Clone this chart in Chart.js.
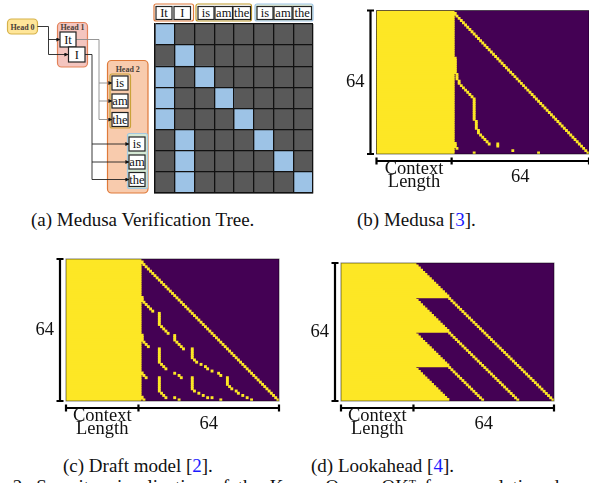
<!DOCTYPE html>
<html>
<head>
<meta charset="utf-8">
<script src="https://cdn.jsdelivr.net/npm/chart.js@4.4.1/dist/chart.umd.min.js"></script>
<style>
  html, body { margin: 0; padding: 0; background: #fff; }
  #page { position: relative; width: 589px; height: 483px; overflow: hidden; }
  #page svg, #page canvas { position: absolute; left: 0; top: 0; }
</style>
</head>
<body>
<div id="page">
  <svg id="diagram" width="589" height="483" xmlns="http://www.w3.org/2000/svg"></svg>
  <canvas id="gridChart" width="589" height="483"></canvas>
  <canvas id="medusaChart" width="589" height="483"></canvas>
  <canvas id="draftChart" width="589" height="483"></canvas>
  <canvas id="lookChart" width="589" height="483"></canvas>
</div>
<script>
// (a) verification tree attention grid
const gridTokens = ['It', 'I', 'is', 'am', 'the', 'is', 'am', 'the'];
const gridAttends = [[0], [1], [0, 2], [0, 3], [0, 4], [1, 5], [1, 6], [1, 7]];

// masks: 64 generated rows, context columns left of them
const rowIdx = Array.from({ length: 64 }, (_, i) => String(i));
const sizeLabel = '64';

// [rowFrom, rowTo, col] vertical runs and [rowFrom, rowTo, colFrom] diagonal strokes
const medusaContext = 35;
const medusaColumns = [[0, 63, 0], [21, 27, 1], [28, 30, 2], [31, 32, 3], [39, 48, 10], [49, 52, 11], [53, 54, 12],
  [59, 60, 1], [61, 61, 2], [59, 60, 21], [62, 62, 28], [63, 63, 10], [63, 63, 40]];
const medusaDiagonals = [[0, 63, 0], [33, 38, 4], [55, 59, 13]];

const draftContext = 33;
const draftColumns = [[0, 63, 0], [17, 18, 1], [24, 29, 9], [34, 36, 1], [34, 36, 16], [40, 46, 9], [40, 44, 24],
  [47, 47, 28], [48, 48, 30], [49, 49, 31], [50, 50, 33], [51, 51, 16], [52, 52, 18], [53, 53, 19],
  [51, 51, 36], [52, 52, 37], [53, 56, 40], [59, 59, 44], [60, 60, 45], [61, 61, 47], [62, 62, 49], [63, 63, 51],
  [53, 59, 9], [53, 58, 24], [59, 59, 25], [60, 60, 27], [61, 61, 29], [62, 62, 31], [62, 62, 33], [63, 63, 37],
  [62, 62, 1], [63, 63, 2], [62, 62, 16], [63, 63, 18]];
const draftDiagonals = [[0, 63, 0], [19, 23, 2], [30, 33, 10], [37, 39, 2], [37, 40, 17], [47, 49, 10],
  [45, 46, 25], [51, 53, 1], [57, 58, 41], [60, 62, 10]];

const lookContext = 33;
const lookRunEnd = [1, 2, 3, 4, 5, 6, 7, 8, 9, 10, 11, 12, 13, 14, 15, 16,
  1, 2, 3, 4, 5, 6, 7, 8, 9, 10, 11, 12, 13, 14, 15, 16,
  1, 2, 3, 4, 5, 6, 7, 8, 9, 10, 11, 12, 13, 14, 15, 16,
  1, 2, 3, 4, 5, 6, 7, 8, 9, 10, 11, 12, 13, 14, 15, 16];
const lookColumns = [];
const lookDiagonals = [[16, 63, 16], [32, 63, 16], [48, 63, 16]];

const yellow = '#fde725';
const purple = '#440154';
const blue = '#9dc3e6';
const gray = '#595959';

// ---------- tree diagram (svg) ----------
const svg = document.getElementById('diagram');
function el(tag, attrs, text) {
  const e = document.createElementNS('http://www.w3.org/2000/svg', tag);
  for (const k in attrs) e.setAttribute(k, attrs[k]);
  if (text !== undefined) e.textContent = text;
  svg.appendChild(e);
  return e;
}
function box(x, y, w, h, fill, stroke, rx) {
  el('rect', { x, y, width: w, height: h, rx: rx || 0, fill, stroke, 'stroke-width': 1.2 });
}
function tok(x, y, w, h, label) {
  box(x, y, w, h, '#fff', '#222', 0);
  el('text', { x: x + w / 2, y: y + h / 2 + 4, 'text-anchor': 'middle', 'font-family': 'Liberation Serif', 'font-size': 12.5, fill: '#111' }, label);
}
function head(x, y, w, h, fill, stroke, label, ty) {
  box(x, y, w, h, fill, stroke, 4);
  el('text', { x: x + w / 2, y: ty, 'text-anchor': 'middle', 'font-family': 'Liberation Serif', 'font-weight': 'bold', 'font-size': 8, fill: '#4a4038' }, label);
}

const defs = el('defs', {});
const marker = document.createElementNS('http://www.w3.org/2000/svg', 'marker');
[['id', 'arr'], ['markerWidth', 4], ['markerHeight', 4], ['refX', 3.6], ['refY', 2], ['orient', 'auto'], ['markerUnits', 'userSpaceOnUse']].forEach(([k, v]) => marker.setAttribute(k, v));
const mp = document.createElementNS('http://www.w3.org/2000/svg', 'path');
mp.setAttribute('d', 'M0,0 L4,2 L0,4 z');
mp.setAttribute('fill', '#111');
marker.appendChild(mp);
defs.appendChild(marker);

head(7.5, 19, 30, 15, '#ffe699', '#d6b24a', 'Head 0', 29.5);
head(57.5, 22.5, 30, 44.5, '#f4c5bf', '#e38359', 'Head 1', 30);
head(107.5, 60.5, 40.5, 132.5, '#f8cbad', '#df7a3a', 'Head 2', 71.5);
box(110, 74, 20.5, 54, '#f8cbad', '#c9a23a', 2);
box(127.5, 133.5, 20, 55, '#d5e8d4', '#a4c8e0', 2);

const lineStyle = { fill: 'none', 'stroke-width': 0.9 };
el('path', Object.assign({ d: 'M37.5,26.5 H48.5 V54.5 H68', stroke: '#222', 'marker-end': 'url(#arr)' }, lineStyle));
el('path', Object.assign({ d: 'M48.5,39.5 H60', stroke: '#222', 'marker-end': 'url(#arr)' }, lineStyle));
el('path', Object.assign({ d: 'M76,39.5 H99 V119.5 H112', stroke: '#8a8a8a', 'marker-end': 'url(#arr)' }, lineStyle));
el('path', Object.assign({ d: 'M99,83 H112', stroke: '#8a8a8a', 'marker-end': 'url(#arr)' }, lineStyle));
el('path', Object.assign({ d: 'M99,101 H112', stroke: '#8a8a8a', 'marker-end': 'url(#arr)' }, lineStyle));
el('path', Object.assign({ d: 'M84.5,54.5 H92 V179.5 H129', stroke: '#222', 'marker-end': 'url(#arr)' }, lineStyle));
el('path', Object.assign({ d: 'M92,144 H129', stroke: '#222', 'marker-end': 'url(#arr)' }, lineStyle));
el('path', Object.assign({ d: 'M92,162 H129', stroke: '#222', 'marker-end': 'url(#arr)' }, lineStyle));

tok(60, 32, 16, 15, 'It');
tok(68.5, 47, 16.5, 15, 'I');
tok(112, 76, 16, 14, 'is');
tok(112, 94, 16, 14, 'am');
tok(112, 112.5, 16, 14, 'the');
tok(129, 137, 16, 14, 'is');
tok(129, 155, 16, 14, 'am');
tok(129, 172.5, 16, 14, 'the');

// grid header tokens
box(154, 4, 39.5, 17, '#fff', '#e07a3c', 2);
box(196, 4, 55.5, 17, '#fff', '#c09a2a', 2);
box(255, 4, 58, 17, '#e2efda', '#9dc3e6', 2);
[[156, 16, 'It'], [174, 16.5, 'I'], [198, 16, 'is'], [215, 17.5, 'am'], [233, 17.5, 'the'],
 [257, 16, 'is'], [274, 18, 'am'], [293, 18.5, 'the']].forEach(([x, w, t]) => tok(x, 6.5, w, 13, t));

// captions
function caption(x, y, before, ref) {
  const t = el('text', { x, y, 'font-family': 'Liberation Serif', 'font-size': 19, fill: '#111' });
  t.appendChild(document.createTextNode(before));
  if (ref) {
    const a = document.createElementNS('http://www.w3.org/2000/svg', 'tspan');
    a.setAttribute('fill', '#1a1aff');
    a.textContent = ref;
    t.appendChild(a);
    t.appendChild(document.createTextNode('].'));
  }
}
caption(31, 226, '(a) Medusa Verification Tree.');
caption(357, 226, '(b) Medusa [', '3');
caption(63, 472, '(c) Draft model [', '2');
caption(311, 472, '(d) Lookahead [', '4');
el('text', { x: -26, y: 493, 'font-family': 'Liberation Serif', 'font-size': 19, fill: '#111', 'word-spacing': 4 },
  'Fig. 2: Sparsity visualization of the Key · Query QKᵀ for speculative decoding.');

// ---------- (a) grid chart ----------
const cellLines = { color: '#111', lineWidth: 1.3, drawTicks: false, z: 1 };
new Chart(document.getElementById('gridChart'), {
  type: 'bar',
  data: {
    labels: gridTokens,
    datasets: gridTokens.map((_, c) => ({
      data: gridTokens.map(() => [c, c + 1]),
      backgroundColor: gridAttends.map(a => a.includes(c) ? blue : gray),
      borderWidth: 0,
      grouped: false,
      categoryPercentage: 1,
      barPercentage: 1
    }))
  },
  options: {
    responsive: false,
    animation: false,
    indexAxis: 'y',
    layout: { padding: { left: 155, top: 24, right: 276, bottom: 290 } },
    plugins: { legend: { display: false }, tooltip: { enabled: false } },
    scales: {
      x: { type: 'linear', min: 0, max: 8, ticks: { display: false, stepSize: 1 },
        grid: cellLines, border: { color: '#111', width: 1.5, z: 1 } },
      y: { type: 'category', ticks: { display: false },
        grid: Object.assign({ offset: true }, cellLines), border: { color: '#111', width: 1.5, z: 1 } }
    }
  }
});

// ---------- heatmaps ----------
function maskRuns(context, columns, diagonals, runEnds) {
  return rowIdx.map((_, r) => {
    const cols = new Set();
    columns.forEach(([r0, r1, c]) => { if (r >= r0 && r <= r1) cols.add(c); });
    diagonals.forEach(([r0, r1, c0]) => { if (r >= r0 && r <= r1) cols.add(c0 + r - r0); });
    const runs = [[-context, runEnds ? runEnds[r] : 0]];
    [...cols].sort((a, b) => a - b).forEach(c => {
      const last = runs[runs.length - 1];
      if (c <= last[1]) last[1] = Math.max(last[1], c + 1);
      else runs.push([c, c + 1]);
    });
    return runs;
  });
}

const maskFrame = {
  id: 'maskFrame',
  beforeDatasetsDraw(chart) {
    const { ctx, chartArea: a } = chart;
    ctx.save();
    ctx.fillStyle = purple;
    ctx.fillRect(a.left, a.top, a.right - a.left, a.bottom - a.top);
    ctx.restore();
  },
  afterDraw(chart) {
    const { ctx, chartArea: a, scales: { x } } = chart;
    const xs = [x.getPixelForValue(x.min), x.getPixelForValue(0), x.getPixelForValue(x.max)];
    const vx = a.left - 6, hy = a.bottom + 7;
    ctx.save();
    ctx.strokeStyle = 'rgba(0,0,0,0.5)';
    ctx.lineWidth = 1;
    ctx.strokeRect(a.left, a.top, a.right - a.left, a.bottom - a.top);
    ctx.strokeStyle = '#000';
    ctx.lineWidth = 2.2;
    ctx.beginPath();
    ctx.moveTo(vx, a.top); ctx.lineTo(vx, a.bottom);
    ctx.moveTo(vx - 3.5, a.top); ctx.lineTo(vx + 3.5, a.top);
    ctx.moveTo(vx - 3.5, a.bottom); ctx.lineTo(vx + 3.5, a.bottom);
    ctx.moveTo(xs[0], hy); ctx.lineTo(xs[2], hy);
    xs.forEach(px => { ctx.moveTo(px, hy - 3.5); ctx.lineTo(px, hy + 3.5); });
    ctx.stroke();
    ctx.fillStyle = '#111';
    ctx.font = '18.5px "Liberation Serif"';
    ctx.textBaseline = 'middle';
    ctx.textAlign = 'right';
    ctx.fillText(sizeLabel, vx - 6, (a.top + a.bottom) / 2);
    ctx.textAlign = 'center';
    ctx.fillText('Context', (xs[0] + xs[1]) / 2, hy + 8.5);
    ctx.fillText('Length', (xs[0] + xs[1]) / 2, hy + 21.5);
    ctx.fillText(sizeLabel, (xs[1] + xs[2]) / 2, hy + 16);
    ctx.restore();
  }
};

function heatmap(id, context, runs, padding) {
  const depth = Math.max(...runs.map(r => r.length));
  const datasets = [];
  for (let k = 0; k < depth; k++) {
    datasets.push({
      data: runs.map(r => r[k] || null),
      backgroundColor: yellow,
      borderWidth: 0,
      grouped: false,
      categoryPercentage: 1,
      barPercentage: 1,
      inflateAmount: k === 0 ? 0.75 : 0.35
    });
  }
  new Chart(document.getElementById(id), {
    type: 'bar',
    data: { labels: rowIdx, datasets },
    options: {
      responsive: false,
      animation: false,
      indexAxis: 'y',
      layout: { padding },
      plugins: { legend: { display: false }, tooltip: { enabled: false } },
      scales: {
        x: { type: 'linear', min: -context, max: 64, display: false },
        y: { type: 'category', display: false }
      }
    },
    plugins: [maskFrame]
  });
}

heatmap('medusaChart', medusaContext, maskRuns(medusaContext, medusaColumns, medusaDiagonals),
  { left: 376.5, top: 10.5, right: 0, bottom: 329 });
heatmap('draftChart', draftContext, maskRuns(draftContext, draftColumns, draftDiagonals),
  { left: 66, top: 259, right: 310, bottom: 82 });
heatmap('lookChart', lookContext, maskRuns(lookContext, lookColumns, lookDiagonals, lookRunEnd),
  { left: 341, top: 263, right: 35, bottom: 82 });
</script>
</body>
</html>
